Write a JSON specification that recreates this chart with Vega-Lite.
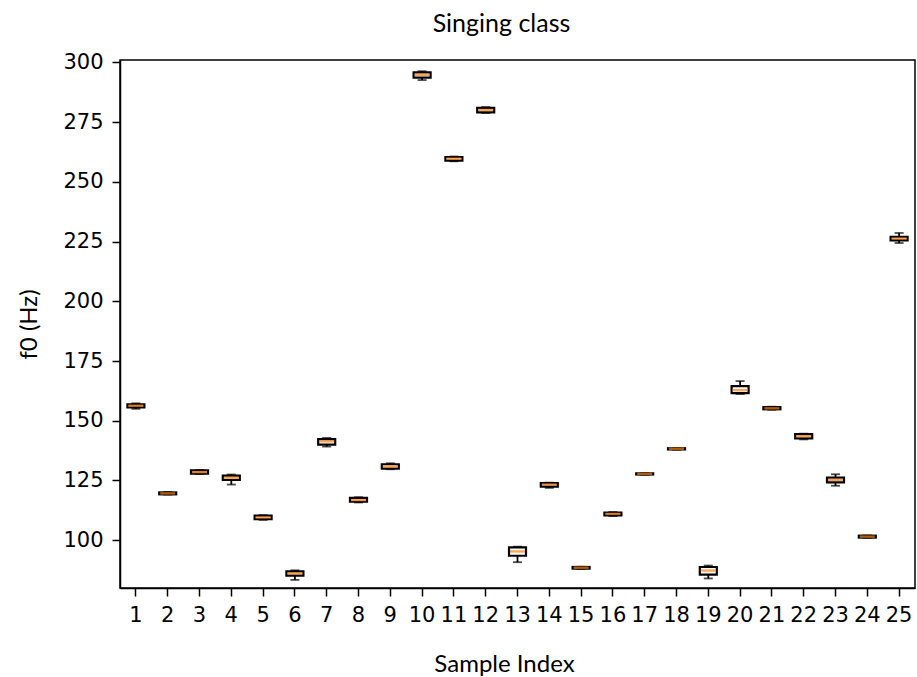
{
  "$schema": "https://vega.github.io/schema/vega-lite/v6.json",
  "autosize": "none",
  "width": 795,
  "height": 528,
  "padding": {"left": 120, "top": 60, "right": 2, "bottom": 89},
  "background": "white",
  "title": {"text": "Singing class", "font": "Lato", "fontSize": 25, "fontWeight": "normal", "color": "black", "anchor": "middle", "offset": 14, "dx": -16},
  "config": {"view": {"stroke": "black", "strokeWidth": 1.5}},
  "data": {"values": [
    {"i": 1, "lo": 155.0, "q1": 155.6, "med": 156.3, "q3": 156.9, "hi": 157.3},
    {"i": 2, "lo": 119.1, "q1": 119.2, "med": 119.6, "q3": 120.0, "hi": 120.2},
    {"i": 3, "lo": 127.7, "q1": 127.9, "med": 128.5, "q3": 129.2, "hi": 129.4},
    {"i": 4, "lo": 123.3, "q1": 125.2, "med": 126.1, "q3": 127.0, "hi": 127.5},
    {"i": 5, "lo": 108.5, "q1": 108.8, "med": 109.5, "q3": 110.3, "hi": 110.5},
    {"i": 6, "lo": 83.4, "q1": 85.2, "med": 86.1, "q3": 87.0, "hi": 87.4},
    {"i": 7, "lo": 139.2, "q1": 140.0, "med": 141.4, "q3": 142.3, "hi": 142.8},
    {"i": 8, "lo": 115.8, "q1": 116.1, "med": 116.8, "q3": 117.7, "hi": 118.0},
    {"i": 9, "lo": 129.7, "q1": 130.0, "med": 130.8, "q3": 131.8, "hi": 132.2},
    {"i": 10, "lo": 292.6, "q1": 293.6, "med": 294.8, "q3": 295.8, "hi": 296.3},
    {"i": 11, "lo": 258.6, "q1": 258.9, "med": 259.7, "q3": 260.4, "hi": 260.6},
    {"i": 12, "lo": 278.8, "q1": 279.1, "med": 280.1, "q3": 281.0, "hi": 281.3},
    {"i": 13, "lo": 90.8, "q1": 93.5, "med": 95.3, "q3": 97.0, "hi": 97.3},
    {"i": 14, "lo": 121.9, "q1": 122.4, "med": 123.3, "q3": 123.9, "hi": 124.1},
    {"i": 15, "lo": 88.0, "q1": 88.1, "med": 88.5, "q3": 88.8, "hi": 88.9},
    {"i": 16, "lo": 110.1, "q1": 110.4, "med": 111.0, "q3": 111.6, "hi": 111.8},
    {"i": 17, "lo": 127.4, "q1": 127.5, "med": 127.8, "q3": 128.0, "hi": 128.1},
    {"i": 18, "lo": 137.9, "q1": 138.0, "med": 138.3, "q3": 138.5, "hi": 138.6},
    {"i": 19, "lo": 84.0, "q1": 85.6, "med": 87.3, "q3": 88.8, "hi": 89.4},
    {"i": 20, "lo": 161.2, "q1": 161.6, "med": 162.8, "q3": 164.5, "hi": 166.6},
    {"i": 21, "lo": 154.6, "q1": 154.8, "med": 155.2, "q3": 155.7, "hi": 155.9},
    {"i": 22, "lo": 142.2, "q1": 142.6, "med": 143.5, "q3": 144.4, "hi": 144.6},
    {"i": 23, "lo": 122.8, "q1": 124.2, "med": 125.3, "q3": 126.2, "hi": 127.6},
    {"i": 24, "lo": 101.0, "q1": 101.1, "med": 101.5, "q3": 101.9, "hi": 102.0},
    {"i": 25, "lo": 224.4, "q1": 225.5, "med": 226.3, "q3": 227.0, "hi": 228.6}
  ]},
  "encoding": {
    "x": {
      "field": "i", "type": "ordinal",
      "scale": {"paddingInner": 0, "paddingOuter": 0},
      "axis": {
        "title": "Sample Index", "titleFont": "Lato", "titleFontSize": 24, "titleFontWeight": "normal", "titleColor": "black", "titlePadding": 27, "titleX": 384,
        "labelAngle": 0, "labelFont": "DejaVu Sans", "labelFontSize": 21, "labelColor": "black", "labelPadding": 8, "labelOverlap": false, "labelBound": false,
        "tickColor": "black", "tickSize": 8, "tickWidth": 1.5, "domainColor": "black", "domainWidth": 1.5, "grid": false
      }
    }
  },
  "layer": [
    {
      "mark": {"type": "rule", "color": "black", "strokeWidth": 1.8},
      "encoding": {
        "y": {"field": "lo", "type": "quantitative",
          "scale": {"domain": [80, 301], "nice": false, "zero": false},
          "axis": {
            "title": "f0 (Hz)", "titleFont": "Lato", "titleFontSize": 24, "titleFontWeight": "normal", "titleColor": "black", "titlePadding": 21,
            "values": [100, 125, 150, 175, 200, 225, 250, 275, 300],
            "labelFont": "DejaVu Sans", "labelFontSize": 21, "labelColor": "black", "labelPadding": 9,
            "tickColor": "black", "tickSize": 8, "tickWidth": 1.5, "domainColor": "black", "domainWidth": 1.5, "grid": false
          }
        },
        "y2": {"field": "hi"}
      }
    },
    {
      "mark": {"type": "tick", "color": "black", "size": 9, "thickness": 1.8},
      "encoding": {"y": {"field": "lo", "type": "quantitative"}}
    },
    {
      "mark": {"type": "tick", "color": "black", "size": 9, "thickness": 1.8},
      "encoding": {"y": {"field": "hi", "type": "quantitative"}}
    },
    {
      "mark": {"type": "bar", "fill": "white", "stroke": "black", "strokeWidth": 2.2, "size": 17},
      "encoding": {"y": {"field": "q1", "type": "quantitative"}, "y2": {"field": "q3"}}
    },
    {
      "mark": {"type": "tick", "color": "#ff7f0e", "size": 15, "thickness": 2.4},
      "encoding": {"y": {"field": "med", "type": "quantitative"}}
    }
  ]
}
